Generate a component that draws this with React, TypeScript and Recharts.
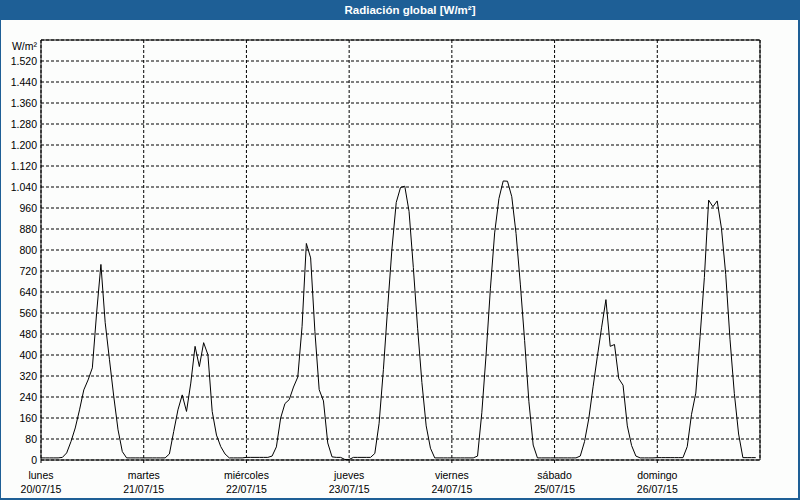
import { LineChart, Line, XAxis, YAxis, CartesianGrid, ReferenceLine } from 'recharts';

// hourly values (W/m²), one array per day, 00h..23h
const lunes = [8, 8, 8, 8, 8, 10, 27, 70, 122, 191, 267, 305, 351, 561, 745, 523, 382, 242, 115, 32, 8, 8, 8, 8];
const martes = [8, 8, 8, 8, 8, 8, 23, 108, 191, 248, 185, 293, 433, 356, 447, 401, 185, 95, 51, 23, 8, 8, 8, 8];
const miercoles = [10, 10, 10, 10, 10, 10, 15, 50, 160, 215, 230, 278, 316, 509, 825, 770, 490, 268, 225, 65, 12, 10, 10, 2];
const jueves = [2, 10, 10, 10, 10, 10, 25, 140, 344, 580, 804, 981, 1038, 1043, 947, 733, 502, 295, 130, 45, 8, 8, 8, 8];
const viernes = [8, 8, 8, 8, 8, 8, 15, 180, 402, 652, 865, 996, 1063, 1062, 1003, 863, 670, 455, 222, 57, 8, 8, 8, 8];
const sabado = [8, 8, 8, 8, 8, 8, 15, 70, 158, 279, 395, 506, 611, 433, 440, 310, 285, 130, 55, 15, 8, 8, 8, 8];
const domingo = [9, 9, 9, 9, 9, 9, 9, 51, 174, 255, 471, 695, 990, 965, 987, 882, 706, 458, 254, 99, 9, 9, 9, 9];

const dayNames = ['lunes', 'martes', 'miércoles', 'jueves', 'viernes', 'sábado', 'domingo'];
const dayDates = ['20/07/15', '21/07/15', '22/07/15', '23/07/15', '24/07/15', '25/07/15', '26/07/15'];
const xTicks = [0, 24, 48, 72, 96, 120, 144];
const yTicks = [0, 80, 160, 240, 320, 400, 480, 560, 640, 720, 800, 880, 960, 1040, 1120, 1200, 1280, 1360, 1440, 1520, 1600];

const data = [lunes, martes, miercoles, jueves, viernes, sabado, domingo]
  .flat()
  .map((v, i) => ({ t: i, v }));

const FONT = '"Liberation Sans", Arial, sans-serif';

const fmt = (n: number) => String(n).replace(/\B(?=(\d{3})+(?!\d))/g, '.');

const YTick = ({ y, payload }: any) => {
  const top = payload.value === 1600;
  return (
    <text x={37} y={y + (top ? 10 : 4)} textAnchor="end" fontSize={10.5} fontFamily={FONT} fill="#000">
      {top ? 'W/m²' : fmt(payload.value)}
    </text>
  );
};

const XTick = ({ x, payload }: any) => {
  const i = payload.value / 24;
  return (
    <g fontSize={10.5} fontFamily={FONT} fill="#000">
      <text x={x} y={479} textAnchor="middle">{dayNames[i]}</text>
      <text x={x} y={493} textAnchor="middle">{dayDates[i]}</text>
    </g>
  );
};

export default function App() {
  return (
    <div style={{ position: 'absolute', left: 0, top: 0, width: 800, height: 500, background: '#fcfdfc' }}>
      <LineChart width={800} height={500} data={data} margin={{ top: 40, right: 40, bottom: 0, left: 0 }}>
        <CartesianGrid stroke="#000" strokeDasharray="3 2" />
        <XAxis
          dataKey="t"
          type="number"
          domain={[0, 168]}
          ticks={xTicks}
          height={40}
          axisLine={{ stroke: '#000' }}
          tickLine={{ stroke: '#000' }}
          tickSize={3}
          tick={<XTick />}
          interval={0}
        />
        <YAxis
          type="number"
          domain={[0, 1600]}
          ticks={yTicks}
          width={41}
          axisLine={{ stroke: '#000' }}
          tickLine={false}
          tick={<YTick />}
          interval={0}
        />
        <ReferenceLine y={1600} stroke="#000" />
        <ReferenceLine x={168} stroke="#000" />
        <Line dataKey="v" type="linear" stroke="#000" strokeWidth={1} dot={false} isAnimationActive={false} />
      </LineChart>
      <div
        style={{
          position: 'absolute', left: 0, top: 0, width: 800, height: 20, background: '#1e5f96',
          color: '#fff', fontFamily: FONT, fontWeight: 'bold', fontSize: 11.5, lineHeight: '20px',
          textAlign: 'center', boxSizing: 'border-box', paddingLeft: 20,
        }}
      >
        Radiación global [W/m²]
      </div>
      <div
        style={{
          position: 'absolute', left: 0, top: 0, width: 800, height: 500, boxSizing: 'border-box',
          borderLeft: '1px solid #1e5f96', borderRight: '2px solid #1e5f96', borderBottom: '2px solid #1e5f96',
          pointerEvents: 'none',
        }}
      />
    </div>
  );
}
